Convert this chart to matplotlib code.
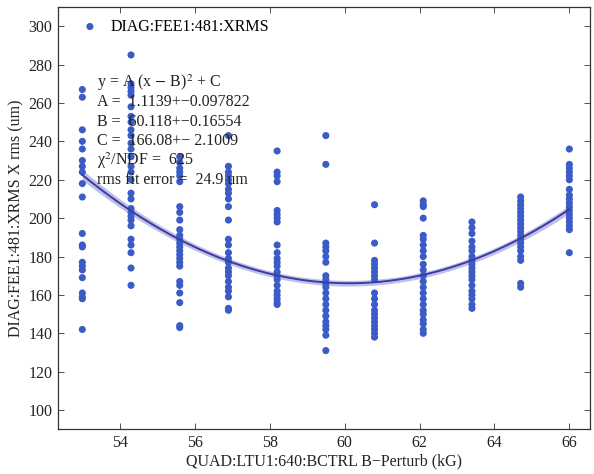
import numpy as np
import matplotlib
matplotlib.use("Agg")
import matplotlib.pyplot as plt

plt.rcParams['font.family'] = ['Liberation Serif', 'DejaVu Serif']
plt.rcParams['mathtext.fontset'] = 'stix'

# Quad settings (kG)
x_settings = [53.0, 54.3, 55.6, 56.9, 58.2, 59.5, 60.8, 62.1, 63.4, 64.7, 66.0]

# Measured XRMS (um) per quad setting
col_53_0 = [267, 263, 246, 240, 236, 230, 227, 224, 218, 211, 192, 186, 185, 177, 175, 173, 169, 161, 159, 158, 142]
col_54_3 = [285, 270, 268, 266, 264, 258, 253, 250, 246, 243, 239, 236, 232, 227, 224, 220, 213, 210, 205, 203, 201, 199, 196, 189, 186, 182, 174, 165]
col_55_6 = [232, 229, 226, 224, 222, 219, 206, 203, 199, 194, 191, 189, 187, 185, 183, 181, 179, 177, 175, 167, 165, 161, 156, 144, 143]
col_56_9 = [243, 227, 224, 222, 220, 218, 215, 213, 210, 206, 199, 189, 186, 182, 179, 177, 174, 172, 170, 167, 164, 162, 159, 153, 152]
col_58_2 = [235, 224, 222, 219, 204, 202, 200, 198, 186, 182, 179, 177, 175, 172, 170, 168, 165, 162, 160, 158, 156, 155]
col_59_5 = [243, 228, 187, 185, 183, 180, 177, 170, 168, 166, 164, 161, 158, 155, 152, 149, 146, 144, 142, 139, 131]
col_60_8 = [207, 187, 178, 176, 174, 172, 170, 168, 161, 158, 155, 152, 150, 148, 146, 144, 142, 140, 138]
col_62_1 = [209, 207, 206, 200, 191, 189, 186, 183, 180, 176, 173, 170, 167, 164, 161, 158, 155, 152, 150, 147, 145, 142, 140]
col_63_4 = [198, 195, 192, 188, 185, 183, 180, 178, 176, 174, 172, 170, 168, 165, 162, 160, 158, 155, 153]
col_64_7 = [211, 209, 207, 205, 203, 201, 199, 197, 195, 193, 191, 189, 187, 185, 183, 180, 178, 166, 164]
col_66_0 = [236, 228, 226, 224, 222, 220, 215, 212, 210, 208, 206, 204, 202, 200, 198, 196, 194, 182]

columns = [col_53_0, col_54_3, col_55_6, col_56_9, col_58_2, col_59_5,
           col_60_8, col_62_1, col_63_4, col_64_7, col_66_0]

# Fit parameters y = A (x - B)^2 + C
fit_A, fit_A_err = 1.1139, 0.097822
fit_B, fit_B_err = 60.118, 0.16554
fit_C, fit_C_err = 166.08, 2.1009
chi2_ndf = 625
rms_fit_err = 24.9

xs = np.concatenate([[x] * len(c) for x, c in zip(x_settings, columns)])
ys = np.concatenate(columns)

FS = 11.5

fig = plt.figure(figsize=(5.94, 4.74), dpi=100)
ax = fig.add_axes([0.0976, 0.0943, 0.8956, 0.891])

point_color = '#3b5bc6'
ax.scatter(xs, ys, s=26, color=point_color, edgecolors='none', zorder=3,
           label='DIAG:FEE1:481:XRMS')

xf = np.linspace(x_settings[0], x_settings[-1], 300)
yf = fit_A * (xf - fit_B) ** 2 + fit_C
band = np.sqrt(1.5 ** 2 + (0.45 * fit_A_err * (xf - fit_B) ** 2) ** 2)
ax.fill_between(xf, yf - band, yf + band, color='#a4a4de', alpha=0.7,
                linewidth=0, zorder=2)
ax.plot(xf, yf, color='#3b3ba6', linewidth=1.4, zorder=4)

ax.set_xlim(52.35, 66.55)
ax.set_ylim(90, 310)
ax.set_xticks([54, 56, 58, 60, 62, 64, 66])
ax.set_yticks(np.arange(100, 301, 20))
ax.tick_params(direction='in', top=True, right=True, length=4, width=0.6,
               labelsize=FS, colors='#333333', labelcolor='#222222', pad=4)
for s in ax.spines.values():
    s.set_linewidth(0.9)
    s.set_color('#333333')

ax.set_xlabel('QUAD:LTU1:640:BCTRL B\u2212Perturb (kG)', fontsize=FS, labelpad=2,
              color='#222222')
ax.set_ylabel('DIAG:FEE1:481:XRMS X rms (um)', fontsize=FS, labelpad=3,
              color='#222222')

leg = ax.legend(loc='upper left', frameon=False, fontsize=FS, handletextpad=0.7,
                handlelength=1.2, bbox_to_anchor=(0.012, 1.01), borderaxespad=0.6)

lines = [
    r'y = A (x $-$ B)$^2$ + C',
    'A =  %.4f+\u2212%.6f' % (fit_A, fit_A_err),
    'B =  %.3f+\u2212%.5f' % (fit_B, fit_B_err),
    'C =  %.2f+\u2212 %.4f' % (fit_C, fit_C_err),
    '\u03c7$^2$/NDF =  %d' % chi2_ndf,
    'rms fit error =  %.1f um' % rms_fit_err,
]
for i, t in enumerate(lines):
    ax.text(0.073, 0.82 - i * 0.0458, t, transform=ax.transAxes, fontsize=FS,
            color='#222222', va='center', ha='left', zorder=5)

fig.savefig('out.png', dpi=100)
